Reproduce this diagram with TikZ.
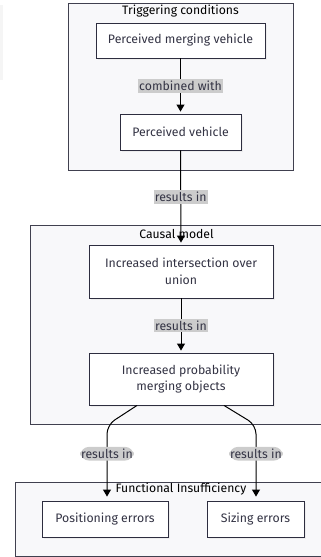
\documentclass[tikz,border=0pt]{standalone}
\usepackage{fontspec}
\setmainfont{Fira Sans}
\usetikzlibrary{arrows.meta,calc,shadows}
\definecolor{clfill}{HTML}{F8F8FA}
\definecolor{cldraw}{HTML}{40404F}
\definecolor{nddraw}{HTML}{2D2D3F}
\definecolor{txt}{HTML}{333344}
\definecolor{labbg}{HTML}{CCCCCC}
\tikzset{
  cluster/.style={draw=cldraw, fill=clfill, line width=0.9pt},
  cltitle/.style={font=\fontsize{12.2}{14}\selectfont, text=black, inner sep=0pt},
  box/.style={draw=nddraw, fill=white, line width=0.9pt, align=center,
    text=txt, font=\fontsize{12.3}{16.5}\selectfont, inner sep=0pt,
    general shadow={shadow xshift=2pt, shadow yshift=-2pt, fill=black!7}},
  lab/.style={fill=labbg, text=txt, font=\fontsize{12.3}{14}\selectfont,
    inner xsep=1pt, inner ysep=2pt},
  conn/.style={line width=1pt, draw=black, -{Triangle[width=8pt,length=7pt]}}
}
\begin{document}
\begin{tikzpicture}[x=1pt,y=-1pt]
\useasboundingbox (0,0) rectangle (321,557);
\fill[black!4] (0,5) rectangle (3,80);
% clusters
\draw[cluster] (68,3) rectangle (293,170);
\node[cltitle] (tct) at (180.5,11) {Triggering conditions};
\draw[cluster] (30,225) rectangle (323,424);
\node[cltitle] (cmt) at (176.5,234) {Causal model};
\draw[cluster] (15,482) rectangle (323,556);
\node[cltitle] (fit) at (181,489) {Functional Insufficiency};
% nodes
\node[box, minimum width=169, minimum height=35] (pmv) at (180.5,40.5) {Perceived merging vehicle};
\node[box, minimum width=121, minimum height=36] (pv) at (180.5,132) {Perceived vehicle};
\node[box, minimum width=184, minimum height=53] (iiou) at (181,271.5) {Increased intersection over\\union};
\node[box, minimum width=184, minimum height=52] (ipmo) at (181,379) {Increased probability\\merging objects};
\node[box, minimum width=126, minimum height=36] (pe) at (105,519) {Positioning errors};
\node[box, minimum width=97, minimum height=36] (se) at (255.5,519) {Sizing errors};
% edges
\draw[conn, shorten >=2pt] (pmv.south) -- node[lab]{combined with} (pv.north);
\draw[conn, shorten >=2pt] (pv.south) -- node[lab, pos=0.495]{results in} (iiou.north);
\draw[conn, shorten >=2pt] (iiou.south) -- node[lab]{results in} (ipmo.north);
\coordinate (bl) at (107,425);
\coordinate (br) at (256,425);
\draw[conn, shorten >=4pt, rounded corners=9pt] ($(ipmo.south)+(-44,0)$) -- (bl) -- node[lab, pos=0.38]{results in} ($(pe.north)+(2,0)$);
\draw[conn, shorten >=4pt, rounded corners=9pt] ($(ipmo.south)+(43,0)$) -- (br) -- node[lab, pos=0.38]{results in} ($(se.north)+(0.5,0)$);
\end{tikzpicture}
\end{document}
